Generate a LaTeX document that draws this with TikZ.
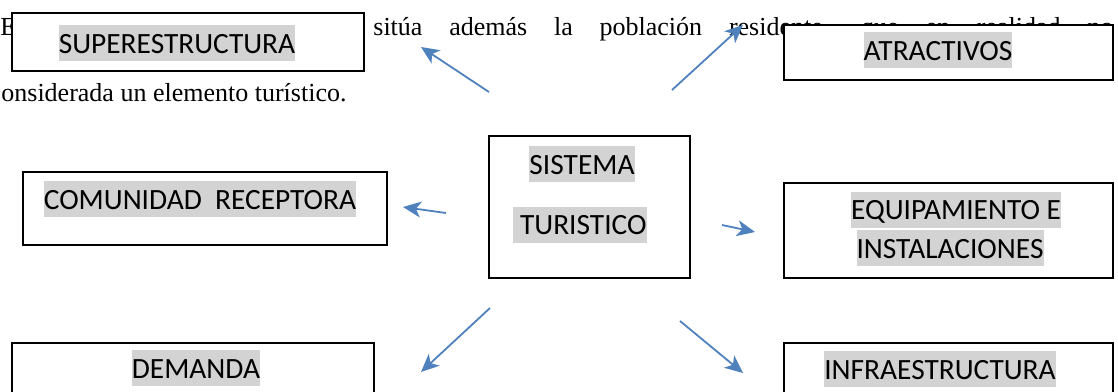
\documentclass[tikz,border=0pt]{standalone}
\usepackage{fontspec}
\setmainfont{Liberation Serif}
\newfontfamily\boxfont{Carlito}
\usetikzlibrary{arrows.meta, positioning}
\definecolor{hlgray}{HTML}{D3D3D3}
\definecolor{arrowblue}{HTML}{4F81BD}
\tikzset{%
  box/.style    = {rectangle, draw, fill=white, line width=1pt, inner sep=0pt},
  hltext/.style = {fill=hlgray, inner xsep=0pt, inner ysep=0pt,
                   font=\boxfont\fontsize{14.7}{17}\selectfont,
                   text height=14pt, text depth=4pt},
  body/.style   = {anchor=base west, inner sep=0pt,
                   font=\fontsize{13}{15}\selectfont},
  link/.style   = {draw=arrowblue, line width=0.9pt}
  }

\begin{document}
\begin{tikzpicture}[x=0.5pt, y=-0.5pt, >={Stealth[length=9pt,width=8pt,inset=2.5pt]}]
    \useasboundingbox (0,0) rectangle (1118,391);
    \clip (0,0) rectangle (1118,391);

    % page text behind the boxes
    \node (lineA) [body] at (0,35)   {En};
    \node (lineB) [body] at (373,35) {\makebox[370pt][s]{sitúa además la población residente, que en realidad no}};
    \node (lineC) [body] at (1,101)  {onsiderada un elemento turístico.};

    % boxes
    \node (super)     [box, minimum width=176pt,   minimum height=29pt]   at (188,42)      {};
    \node (atract)    [box, minimum width=164.5pt, minimum height=27.5pt] at (948.5,52.5)  {};
    \node (sistema)   [box, minimum width=100.5pt, minimum height=71pt]   at (589.5,207)   {};
    \node (comunidad) [box, minimum width=182pt,   minimum height=36.5pt] at (205,208.5)   {};
    \node (equip)     [box, minimum width=164.5pt, minimum height=47.5pt] at (948.5,230.5) {};
    \node (demanda)   [box, minimum width=181pt,   minimum height=48.5pt] at (193,391.5)   {};
    \node (infra)     [box, minimum width=164.5pt, minimum height=48.5pt] at (948.5,391.5) {};

    % highlighted texts
    \node (superTxt)  [hltext] at (177,43)    {SUPERESTRUCTURA};
    \node (atractTxt) [hltext] at (938,50)    {ATRACTIVOS};
    \node (sisTxtA)   [hltext] at (582,164)   {SISTEMA};
    \node (sisTxtB)   [hltext] at (580,224.5) {\ TURISTICO};
    \node (comTxt)    [hltext] at (200,199)   {COMUNIDAD\ \ RECEPTORA};
    \node (equipTxtA) [hltext] at (956,209.5) {EQUIPAMIENTO E};
    \node (equipTxtB) [hltext] at (950,248)   {INSTALACIONES};
    \node (demTxt)    [hltext] at (196,368)   {DEMANDA};
    \node (infraTxt)  [hltext] at (940,369)   {INFRAESTRUCTURA};

    % arrow ends
    \coordinate (superTail)  at (489,92);
    \coordinate (superTip)   at (421,47);
    \coordinate (atractTail) at (672,90);
    \coordinate (atractTip)  at (743,25);
    \coordinate (comTail)    at (446,213);
    \coordinate (comTip)     at (403,207);
    \coordinate (equipTail)  at (722,225);
    \coordinate (equipTip)   at (755,232);
    \coordinate (demTail)    at (490,308);
    \coordinate (demTip)     at (421,372);
    \coordinate (infraTail)  at (680,321);
    \coordinate (infraTip)   at (743,373);

    \path[->] (superTail)  edge [link] (superTip)
              (atractTail) edge [link] (atractTip)
              (comTail)    edge [link] (comTip)
              (equipTail)  edge [link] (equipTip)
              (demTail)    edge [link] (demTip)
              (infraTail)  edge [link] (infraTip);
\end{tikzpicture}
\end{document}
